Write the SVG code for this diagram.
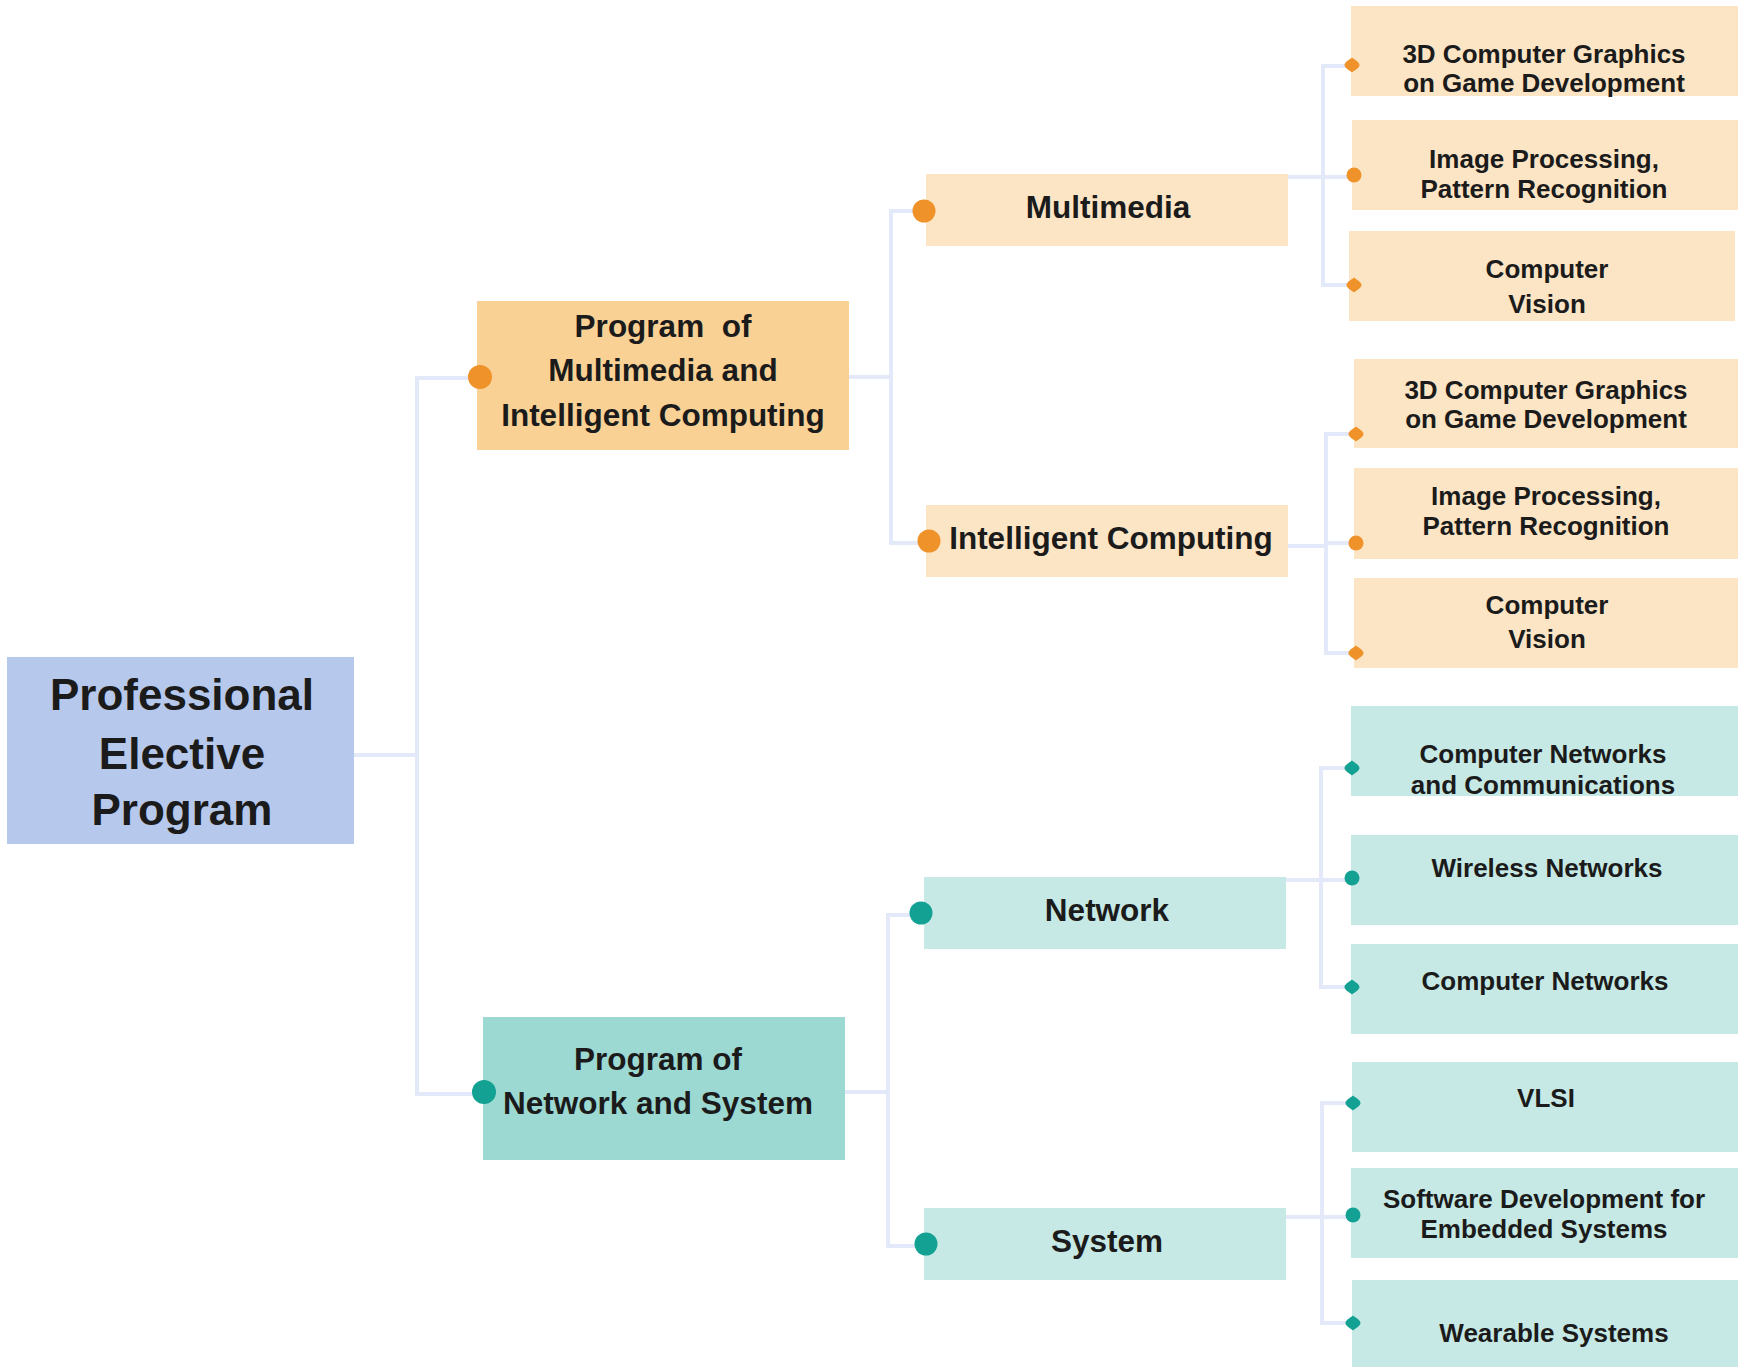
<svg xmlns="http://www.w3.org/2000/svg" xmlns:xlink="http://www.w3.org/1999/xlink" width="1738" height="1367" viewBox="0 0 1738 1367">
<style>
.t{font-family:"Liberation Sans",Arial,sans-serif;font-weight:bold;fill:#1b1b1b;text-anchor:middle}
.root{font-size:44px}
.l1{font-size:31.5px}
.l2{font-size:31.5px}
.lf{font-size:26px}
.conn{fill:none;stroke:#E3E9F8;stroke-width:4}
.o1{fill:#F9D195}.o2{fill:#FCE5C5}.od{fill:#F0922A}
.g1{fill:#9CD9D3}.g2{fill:#C6E9E5}.gd{fill:#12A192}
</style>
<defs>
<path id="dia" d="M0,-7.5 C3,-5 7.5,-3 7.5,0 C7.5,3 3,5 0,7.5 C-3,5 -7.5,3 -7.5,0 C-7.5,-3 -3,-5 0,-7.5Z"/>
</defs>
<rect width="1738" height="1367" fill="#fff"/>
<g id="connectors" class="conn">
<path d="M354,755 H417"/>
<path d="M480,378 H417 V1094 H484"/>
<path d="M849,377 H891"/>
<path d="M923,211 H891 V543 H928"/>
<path d="M1288,177 H1354"/>
<path d="M1352,66 H1323 V285 H1354"/>
<path d="M1288,546 H1326"/>
<path d="M1326,543 H1356"/>
<path d="M1356,434 H1326 V653 H1356"/>
<path d="M1286,880 H1352"/>
<path d="M1352,768 H1321 V987 H1352"/>
<path d="M845,1092 H888"/>
<path d="M921,915 H888 V1246 H926"/>
<path d="M1286,1217 H1353"/>
<path d="M1353,1103 H1322 V1323 H1353"/>
</g>
<g id="root">
<rect x="7" y="657" width="347" height="187" fill="#B6C8EC"/>
<text class="t root" x="182" y="710">Professional</text>
<text class="t root" x="182" y="769">Elective</text>
<text class="t root" x="182" y="825">Program</text>
</g>
<g id="prog-mm">
<rect class="o1" x="477" y="301" width="372" height="149"/>
<circle class="od" cx="480" cy="377" r="12"/>
<text class="t l1" x="663" y="337" xml:space="preserve">Program  of</text>
<text class="t l1" x="663" y="381">Multimedia and</text>
<text class="t l1" x="663" y="426">Intelligent Computing</text>
</g>
<g id="prog-ns">
<rect class="g1" x="483" y="1017" width="362" height="143"/>
<circle class="gd" cx="484" cy="1092" r="12"/>
<text class="t l1" x="658" y="1070">Program of</text>
<text class="t l1" x="658" y="1114">Network and System</text>
</g>
<g id="multimedia">
<rect class="o2" x="926" y="174" width="362" height="72"/>
<circle class="od" cx="924" cy="211" r="11.5"/>
<text class="t l2" x="1108" y="218">Multimedia</text>
</g>
<g id="intelligent">
<rect class="o2" x="926" y="505" width="362" height="72"/>
<circle class="od" cx="929" cy="541" r="11.5"/>
<text class="t l2" x="1111" y="549">Intelligent Computing</text>
</g>
<g id="network">
<rect class="g2" x="924" y="877" width="362" height="72"/>
<circle class="gd" cx="921" cy="913" r="11.5"/>
<text class="t l2" x="1107" y="921">Network</text>
</g>
<g id="system">
<rect class="g2" x="924" y="1208" width="362" height="72"/>
<circle class="gd" cx="926" cy="1244" r="11.5"/>
<text class="t l2" x="1107" y="1252">System</text>
</g>
<g id="mm-3d">
<rect class="o2" x="1351" y="6" width="387" height="90"/>
<use href="#dia" xlink:href="#dia" class="od" x="1352" y="65"/>
<text class="t lf" x="1544" y="63">3D Computer Graphics</text>
<text class="t lf" x="1544" y="92">on Game Development</text>
</g>
<g id="mm-image">
<rect class="o2" x="1352" y="120" width="386" height="90"/>
<circle class="od" cx="1354" cy="175" r="7.5"/>
<text class="t lf" x="1544" y="168">Image Processing,</text>
<text class="t lf" x="1544" y="198">Pattern Recognition</text>
</g>
<g id="mm-vision">
<rect class="o2" x="1349" y="231" width="386" height="90"/>
<use href="#dia" xlink:href="#dia" class="od" x="1354" y="285"/>
<text class="t lf" x="1547" y="278">Computer</text>
<text class="t lf" x="1547" y="313">Vision</text>
</g>
<g id="ic-3d">
<rect class="o2" x="1354" y="359" width="384" height="89"/>
<use href="#dia" xlink:href="#dia" class="od" x="1356" y="434"/>
<text class="t lf" x="1546" y="399">3D Computer Graphics</text>
<text class="t lf" x="1546" y="428">on Game Development</text>
</g>
<g id="ic-image">
<rect class="o2" x="1354" y="468" width="384" height="91"/>
<circle class="od" cx="1356" cy="543" r="7.5"/>
<text class="t lf" x="1546" y="505">Image Processing,</text>
<text class="t lf" x="1546" y="535">Pattern Recognition</text>
</g>
<g id="ic-vision">
<rect class="o2" x="1354" y="578" width="384" height="90"/>
<use href="#dia" xlink:href="#dia" class="od" x="1356" y="653"/>
<text class="t lf" x="1547" y="614">Computer</text>
<text class="t lf" x="1547" y="648">Vision</text>
</g>
<g id="net-cnc">
<rect class="g2" x="1351" y="706" width="387" height="90"/>
<use href="#dia" xlink:href="#dia" class="gd" x="1352" y="768"/>
<text class="t lf" x="1543" y="763">Computer Networks</text>
<text class="t lf" x="1543" y="794">and Communications</text>
</g>
<g id="net-wireless">
<rect class="g2" x="1351" y="835" width="387" height="90"/>
<circle class="gd" cx="1352" cy="878" r="7.5"/>
<text class="t lf" x="1547" y="877">Wireless Networks</text>
</g>
<g id="net-cn">
<rect class="g2" x="1351" y="944" width="387" height="90"/>
<use href="#dia" xlink:href="#dia" class="gd" x="1352" y="987"/>
<text class="t lf" x="1545" y="990">Computer Networks</text>
</g>
<g id="sys-vlsi">
<rect class="g2" x="1352" y="1062" width="386" height="90"/>
<use href="#dia" xlink:href="#dia" class="gd" x="1353" y="1103"/>
<text class="t lf" x="1546" y="1107">VLSI</text>
</g>
<g id="sys-embedded">
<rect class="g2" x="1351" y="1168" width="387" height="90"/>
<circle class="gd" cx="1353" cy="1215" r="7.5"/>
<text class="t lf" x="1544" y="1208">Software Development for</text>
<text class="t lf" x="1544" y="1238">Embedded Systems</text>
</g>
<g id="sys-wearable">
<rect class="g2" x="1352" y="1280" width="386" height="87"/>
<use href="#dia" xlink:href="#dia" class="gd" x="1353" y="1323"/>
<text class="t lf" x="1554" y="1342">Wearable Systems</text>
</g>
</svg>
